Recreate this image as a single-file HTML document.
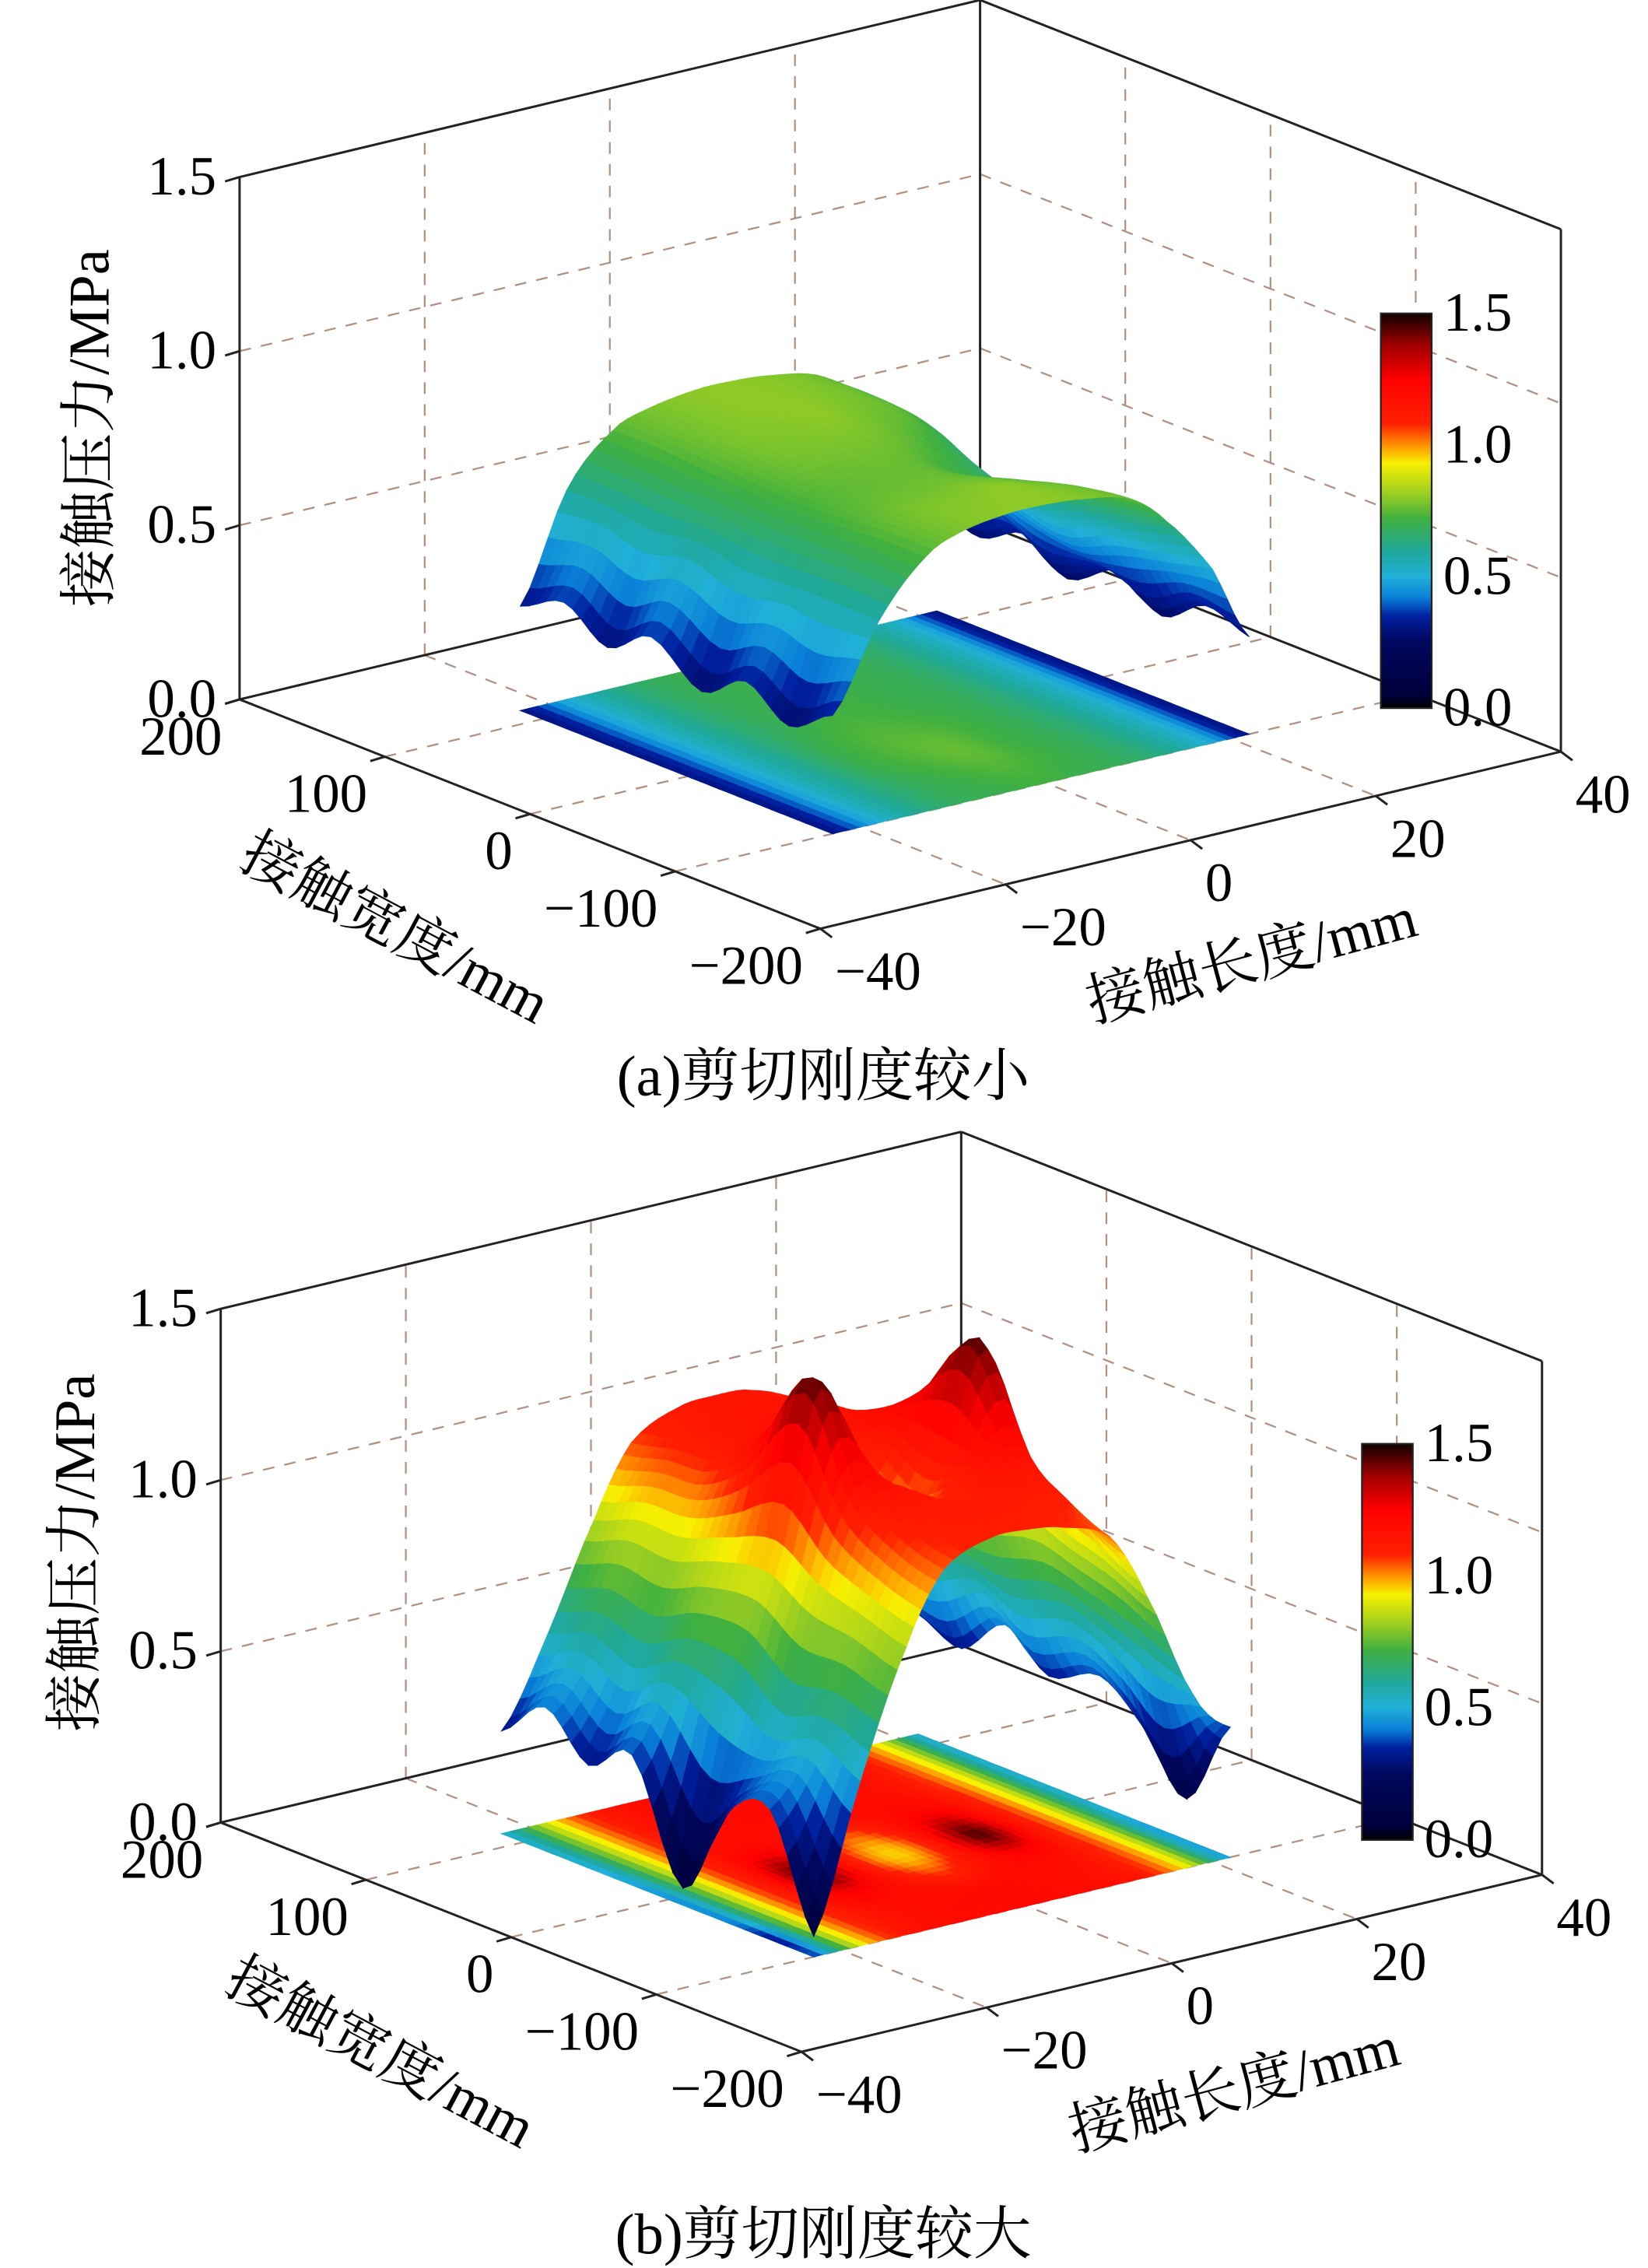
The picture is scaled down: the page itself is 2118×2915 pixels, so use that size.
<!DOCTYPE html>
<html><head><meta charset="utf-8">
<style>
html,body{margin:0;padding:0;background:#fff;}
svg{display:block;}
text{font-family:"Liberation Serif","Noto Serif CJK SC",serif;fill:#000;}
</style></head>
<body>
<svg id="fig" width="2118" height="2915" viewBox="0 0 1135 1563" preserveAspectRatio="none" xmlns="http://www.w3.org/2000/svg">
<defs>
<linearGradient id="cmap" x1="0" y1="1" x2="0" y2="0">
<stop offset="0" stop-color="#000000"/><stop offset="0.033" stop-color="#00003a"/>
<stop offset="0.17" stop-color="#000860"/><stop offset="0.233" stop-color="#0020a0"/>
<stop offset="0.28" stop-color="#0a80d8"/><stop offset="0.333" stop-color="#20b0d8"/>
<stop offset="0.4" stop-color="#20a898"/><stop offset="0.48" stop-color="#40b040"/>
<stop offset="0.547" stop-color="#a0d020"/><stop offset="0.62" stop-color="#f8f000"/>
<stop offset="0.667" stop-color="#ff9000"/><stop offset="0.72" stop-color="#ff2000"/>
<stop offset="0.833" stop-color="#ff0000"/><stop offset="0.92" stop-color="#a00000"/>
<stop offset="1" stop-color="#100000"/>
</linearGradient>
</defs>
<g id="chartA"></g>
<g id="chartB"></g>
</svg>
<script>
// ---- data ----
const widthSamples = [115, 85, 55, 25, -10, -40, -70, -100];
const lengthSamples = [-23, -18, -13, -9, -4, 0, 4, 9, 13, 18, 22];
const pressureA = [
 [0.3,0.6,0.74,0.78,0.8,0.8,0.79,0.76,0.68,0.5,0.3],
 [0.36,0.6,0.74,0.78,0.8,0.8,0.79,0.76,0.68,0.48,0.26],
 [0.28,0.58,0.73,0.78,0.79,0.8,0.78,0.75,0.66,0.46,0.32],
 [0.36,0.6,0.72,0.77,0.78,0.78,0.76,0.7,0.6,0.42,0.24],
 [0.26,0.57,0.71,0.75,0.76,0.76,0.72,0.66,0.56,0.4,0.32],
 [0.34,0.58,0.72,0.76,0.77,0.77,0.75,0.7,0.6,0.44,0.24],
 [0.26,0.58,0.73,0.78,0.79,0.8,0.78,0.74,0.64,0.47,0.32],
 [0.34,0.58,0.73,0.78,0.8,0.8,0.79,0.76,0.67,0.5,0.28]
];
const floorA = [
 [0.3,0.5,0.62,0.68,0.7,0.7,0.7,0.68,0.62,0.5,0.3],
 [0.3,0.5,0.62,0.68,0.7,0.72,0.7,0.68,0.62,0.5,0.3],
 [0.3,0.5,0.62,0.68,0.7,0.72,0.7,0.68,0.62,0.5,0.3],
 [0.3,0.5,0.62,0.68,0.72,0.72,0.7,0.68,0.62,0.5,0.3],
 [0.3,0.5,0.62,0.7,0.74,0.74,0.72,0.68,0.62,0.5,0.3],
 [0.3,0.5,0.62,0.7,0.74,0.76,0.72,0.68,0.62,0.5,0.3],
 [0.3,0.5,0.62,0.68,0.72,0.74,0.72,0.68,0.62,0.5,0.3],
 [0.3,0.5,0.62,0.68,0.7,0.72,0.7,0.68,0.62,0.5,0.3]
];
const pressureB = [
 [0.3,0.55,0.85,1.05,1.12,1.13,1.12,1.05,0.85,0.55,0.35],
 [0.42,0.6,0.9,1.08,1.14,1.15,1.14,1.08,0.88,0.58,0.3],
 [0.3,0.55,0.9,1.1,1.16,1.15,1.16,1.1,0.88,0.62,0.42],
 [0.38,0.62,0.95,1.22,1.18,1.1,1.18,1.22,0.92,0.58,0.32],
 [0.05,0.58,1.0,1.45,1.12,0.98,1.12,1.45,0.98,0.62,0.38],
 [0.32,0.5,0.92,1.18,1.15,1.08,1.15,1.18,0.92,0.58,0.28],
 [0.38,0.55,0.88,1.08,1.12,1.12,1.12,1.08,0.88,0.52,0.12],
 [0.06,0.48,0.84,1.04,1.1,1.1,1.08,1.02,0.82,0.5,0.38]
];
const floorB = [
 [0.5,0.9,1.12,1.18,1.2,1.2,1.2,1.18,1.12,0.9,0.5],
 [0.5,0.9,1.12,1.18,1.2,1.2,1.2,1.18,1.12,0.9,0.5],
 [0.48,0.9,1.12,1.18,1.2,1.2,1.2,1.18,1.12,0.9,0.5],
 [0.45,0.9,1.15,1.25,1.15,1.05,1.15,1.25,1.15,0.9,0.5],
 [0.42,0.9,1.18,1.45,1.1,0.95,1.1,1.45,1.18,0.9,0.5],
 [0.4,0.9,1.15,1.25,1.15,1.05,1.15,1.25,1.15,0.9,0.45],
 [0.3,0.9,1.12,1.18,1.2,1.2,1.2,1.18,1.12,0.9,0.45],
 [0.35,0.88,1.12,1.18,1.2,1.2,1.2,1.18,1.12,0.88,0.45]
];
const zTicks = [0, 0.5, 1.0, 1.5];
const zTickLabels = ["0.0", "0.5", "1.0", "1.5"];
const widthTicks = [200, 100, 0, -100, -200];
const widthTickLabels = ["200", "100", "0", "\u2212100", "\u2212200"];
const lengthTicks = [-40, -20, 0, 20, 40];
const lengthTickLabels = ["\u221240", "\u221220", "0", "20", "40"];
const cbTicks = [0, 0.5, 1.0, 1.5];
const cbTickLabels = ["0.0", "0.5", "1.0", "1.5"];

// ---- colormap ----
const cstops = [[0,[0,0,0]],[0.05,[0,0,58]],[0.25,[0,8,96]],[0.35,[0,32,160]],[0.42,[10,128,216]],
[0.5,[32,176,216]],[0.6,[32,168,152]],[0.72,[64,176,64]],[0.82,[160,208,32]],[0.93,[248,240,0]],
[1.0,[255,144,0]],[1.08,[255,32,0]],[1.25,[255,0,0]],[1.38,[160,0,0]],[1.5,[16,0,0]]];
function cmap(v){
  v=Math.max(0,Math.min(1.5,v));
  for(let i=1;i<cstops.length;i++){
    if(v<=cstops[i][0]){const a=cstops[i-1],b=cstops[i];const t=(v-a[0])/(b[0]-a[0]);
      const c=a[1].map((x,k)=>Math.round(x+(b[1][k]-x)*t));return `rgb(${c[0]},${c[1]},${c[2]})`;}
  }
  return "rgb(16,0,0)";
}
const NS="http://www.w3.org/2000/svg";
function mk(tag,attrs,parent){const e=document.createElementNS(NS,tag);for(const k in attrs)e.setAttribute(k,attrs[k]);parent.appendChild(e);return e;}
function cr(p0,p1,p2,p3,t){return 0.5*((2*p1)+(-p0+p2)*t+(2*p0-5*p1+4*p2-p3)*t*t+(-p0+3*p1-3*p2+p3)*t*t*t);}
function makeSampler(m){
  const nw=m.length,nl=m[0].length;
  const g=(i,j)=>m[Math.max(0,Math.min(nw-1,i))][Math.max(0,Math.min(nl-1,j))];
  return (fi,fj)=>{
    const i=Math.min(Math.floor(fi),nw-2),j=Math.min(Math.floor(fj),nl-2),ti=fi-i,tj=fj-j;
    const rows=[];for(let a=-1;a<=2;a++)rows.push(cr(g(i+a,j-1),g(i+a,j),g(i+a,j+1),g(i+a,j+2),tj));
    return cr(rows[0],rows[1],rows[2],rows[3],ti);
  };
}

function drawChart(g, cfg, data, floorData){
  const O=cfg.origin, S=cfg.zs;
  const P=(w,l,z)=>{const u=(200-w)/400,v=(l+40)/80;return [O[0]+u*400+v*510, O[1]+u*158-v*122-z*S];};
  const line=(a,b,name,dash,color,wd)=>{const e=mk("line",{x1:a[0].toFixed(1),y1:a[1].toFixed(1),x2:b[0].toFixed(1),y2:b[1].toFixed(1),stroke:color||"#222","stroke-width":wd||1.6},g);
    if(dash)e.setAttribute("stroke-dasharray","8,7");
    
    return e;};
  const gc="#b09080";
  [0.5,1.0].forEach(z=>{
    line(P(200,-40,z),P(200,40,z),"grid-line-left-wall",true,gc,1.2);
    line(P(200,40,z),P(-200,40,z),"grid-line-right-wall",true,gc,1.2);
  });
  [-20,0,20].forEach(l=>{
    line(P(200,l,0),P(200,l,1.5),"grid-line-left-wall-vertical",true,gc,1.2);
    line(P(200,l,0),P(-200,l,0),"grid-line-floor",true,gc,1.2);
  });
  [100,0,-100].forEach(w=>{
    line(P(w,40,0),P(w,40,1.5),"grid-line-right-wall-vertical",true,gc,1.2);
    line(P(w,-40,0),P(w,40,0),"grid-line-floor",true,gc,1.2);
  });
  line(P(200,-40,0),P(200,-40,1.5),"z-axis-line");
  line(P(200,-40,1.5),P(200,40,1.5),"box-top-edge");
  line(P(200,40,1.5),P(-200,40,1.5),"box-top-edge");
  line(P(200,40,0),P(200,40,1.5),"box-back-edge");
  line(P(-200,40,0),P(-200,40,1.5),"box-right-edge");
  line(P(200,-40,0),P(200,40,0),"floor-back-edge");
  line(P(200,40,0),P(-200,40,0),"floor-back-edge");
  line(P(200,-40,0),P(-200,-40,0),"width-axis-line");
  line(P(-200,-40,0),P(-200,40,0),"length-axis-line");

  const nw=widthSamples.length, nl=lengthSamples.length, sub=5;
  const sval=makeSampler(data), fval=makeSampler(floorData);
  const wAt=fi=>{const i0=Math.min(Math.floor(fi),nw-2),t=fi-i0;return widthSamples[i0]+(widthSamples[i0+1]-widthSamples[i0])*t;};
  const lAt=fj=>{const j0=Math.min(Math.floor(fj),nl-2),t=fj-j0;return lengthSamples[j0]+(lengthSamples[j0+1]-lengthSamples[j0])*t;};
  const quads=[];
  for(let a=0;a<(nw-1)*sub;a++)for(let b=0;b<(nl-1)*sub;b++){
    const fi0=a/sub,fi1=(a+1)/sub,fj0=b/sub,fj1=(b+1)/sub;
    const cs=[[fi0,fj0],[fi1,fj0],[fi1,fj1],[fi0,fj1]];
    const zs=cs.map(c=>Math.max(0,sval(c[0],c[1])));
    const fz=cs.map(c=>fval(c[0],c[1]));
    const avg=zs.reduce((s,x)=>s+x,0)/4;
    const favg=fz.reduce((s,x)=>s+x,0)/4;
    const u=(200-wAt((fi0+fi1)/2))/400, v=(lAt((fj0+fj1)/2)+40)/80;
    quads.push({cs,zs,avg,favg,d:u-v});
  }
  const fl=mk("g",{},g);
  
  
  quads.forEach(q=>{
    const pts=q.cs.map(c=>P(wAt(c[0]),lAt(c[1]),0).map(x=>x.toFixed(1)).join(",")).join(" ");
    const col=cmap(q.favg);
    const p=mk("polygon",{points:pts,fill:col,stroke:col,"stroke-width":0.6},fl);
    
    
  });
  const sf=mk("g",{},g);
  
  
  quads.slice().sort((x,y)=>x.d-y.d).forEach(q=>{
    const pts=q.cs.map((c,k)=>P(wAt(c[0]),lAt(c[1]),q.zs[k]).map(x=>x.toFixed(1)).join(",")).join(" ");
    const col=cmap(q.avg);
    const p=mk("polygon",{points:pts,fill:col,stroke:col,"stroke-width":0.6},sf);
    
    
  });

  const fs=38;
  zTicks.forEach((z,i)=>{
    const p=P(200,-40,z);
    line([p[0]-10,p[1]+3],p,"z-tick");
    const t=mk("text",{x:p[0]-16,y:p[1]+12,"font-size":fs,"text-anchor":"end"},g);t.textContent=zTickLabels[i];
    
    
  });
  widthTicks.forEach((w,i)=>{
    const p=P(w,-40,0);
    line(p,[p[0]-10,p[1]+3],"width-tick");
    const t=mk("text",{x:p[0]-12,y:p[1]+38,"font-size":fs,"text-anchor":"end"},g);t.textContent=widthTickLabels[i];
    
    
  });
  lengthTicks.forEach((l,i)=>{
    const p=P(-200,l,0);
    line(p,[p[0]+8,p[1]+6],"length-tick");
    const t=mk("text",{x:p[0]+10,y:p[1]+42,"font-size":fs,"text-anchor":"start"},g);t.textContent=lengthTickLabels[i];
    
    
  });
  const tt=(txt,x,y,rot,name)=>{const t=mk("text",{x:x,y:y,"font-size":40,"text-anchor":"middle","dominant-baseline":"central",transform:`rotate(${rot} ${x} ${y})`},g);t.textContent=txt;
    
    };
  tt("接触压力/MPa",cfg.zt[0],cfg.zt[1],-90,"z-axis-title");
  tt("接触宽度/mm",cfg.wt[0],cfg.wt[1],28,"width-axis-title");
  tt("接触长度/mm",cfg.lt[0],cfg.lt[1],-15,"length-axis-title");
  const cb=cfg.cb;
  const r=mk("rect",{x:cb[0],y:cb[1],width:cb[2]-cb[0],height:cb[3]-cb[1],fill:"url(#cmap)",stroke:"#222","stroke-width":1.2},g);
  
  
  cbTicks.forEach((v,i)=>{
    const y=cb[3]-(v/1.5)*(cb[3]-cb[1]);
    const t=mk("text",{x:cb[2]+8,y:y+12,"font-size":fs},g);t.textContent=cbTickLabels[i];
    
    
  });
  const c=mk("text",{x:cfg.cap[0],y:cfg.cap[1],"font-size":40,"text-anchor":"middle"},g);c.textContent=cfg.caption;
  
  
}
drawChart(document.getElementById("chartA"),
  {origin:[165,482],zs:240,zt:[62,295],wt:[272,640],lt:[862,662],cb:[951,216,986,488],cap:[567,755],caption:"(a)剪切刚度较小"},
  pressureA, floorA);
drawChart(document.getElementById("chartB"),
  {origin:[152,1256],zs:236,zt:[52,1070],wt:[262,1415],lt:[850,1440],cb:[938,995,973,1268],cap:[567,1553],caption:"(b)剪切刚度较大"},
  pressureB, floorB);
</script>
</body></html>
